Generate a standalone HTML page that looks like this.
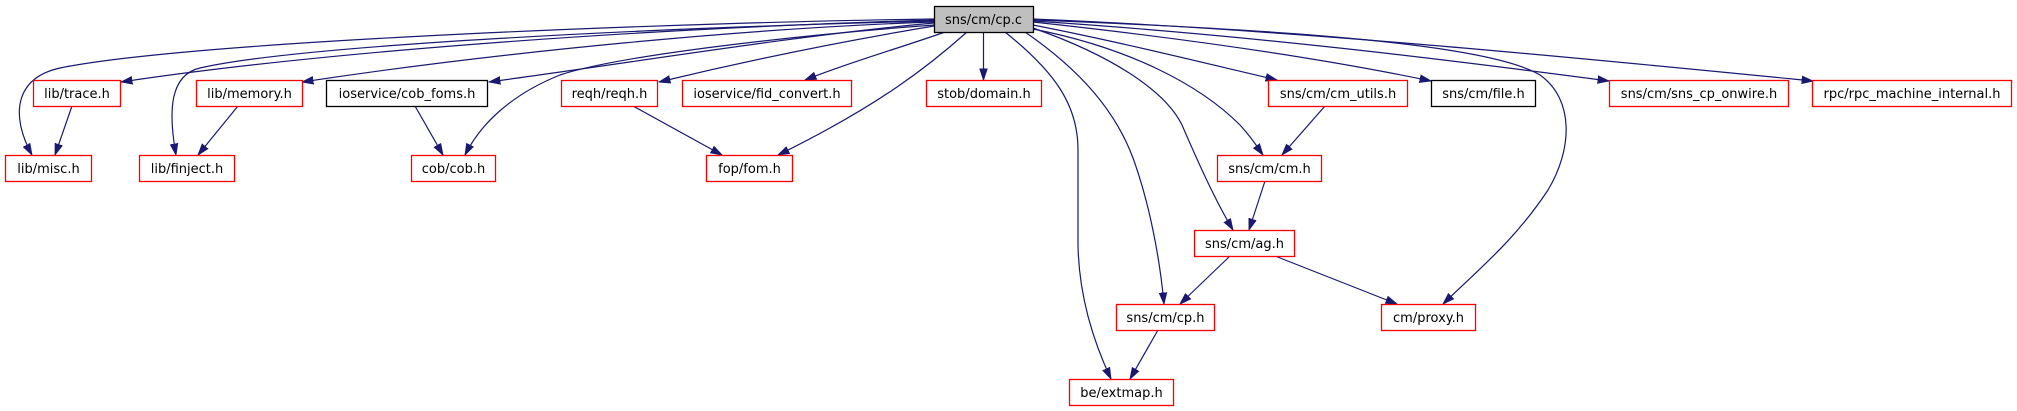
<!DOCTYPE html>
<html><head><meta charset="utf-8"><style>
html,body{margin:0;padding:0;background:#fff;}
svg{display:block;}
text{font-family:"DejaVu Sans","Liberation Sans",sans-serif;font-size:13px;fill:#000;text-anchor:middle;}
.r{fill:#fff;stroke:#ff0000;stroke-width:1.3;}
.b{fill:#fff;stroke:#000;stroke-width:1.3;}
.e{fill:none;stroke:#191970;stroke-width:1.2;}
</style></head><body>
<svg width="2017" height="411" viewBox="0 0 2017 411" xmlns="http://www.w3.org/2000/svg">
<defs>
<marker id="a" markerUnits="userSpaceOnUse" markerWidth="12" markerHeight="9" viewBox="0 0 11 8" refX="10.5" refY="4" orient="auto">
<path d="M0,0.5 L10.5,4 L0,7.5 z" fill="#191970" stroke="#191970" stroke-width="0.8"/>
</marker>
</defs>

<!-- edges from cp.c -->
<path class="e" marker-end="url(#a)" d="M934,19 C700,22 200,40 60,68 C15,78 10,115 32,155"/>
<path class="e" marker-end="url(#a)" d="M934,20 C600,30 300,55 121,82"/>
<path class="e" marker-end="url(#a)" d="M934,21 C650,28 300,45 200,68 C170,75 168,110 176,155"/>
<path class="e" marker-end="url(#a)" d="M934,22 C750,28 500,52 302,82"/>
<path class="e" marker-end="url(#a)" d="M934,23 C800,35 650,60 489,82"/>
<path class="e" marker-end="url(#a)" d="M934,25 C800,35 620,55 560,75 C510,95 480,125 465,155"/>
<path class="e" marker-end="url(#a)" d="M934,26 C850,40 750,60 659,82"/>
<path class="e" marker-end="url(#a)" d="M945,32 C900,48 850,62 805,80"/>
<path class="e" marker-end="url(#a)" d="M967,32 C930,65 880,105 778,155"/>
<path class="e" marker-end="url(#a)" d="M983.5,32 L983.5,80"/>
<path class="e" marker-end="url(#a)" d="M1005,32 C1055,72 1078,105 1078,150 L1078,245 C1079,300 1095,345 1111,379"/>
<path class="e" marker-end="url(#a)" d="M1025,32 C1080,70 1115,110 1133,158 C1150,205 1160,260 1164,304"/>
<path class="e" marker-end="url(#a)" d="M1033,28 C1110,55 1165,90 1182,125 C1198,162 1215,200 1233,230"/>
<path class="e" marker-end="url(#a)" d="M1033,29 C1130,48 1200,85 1240,125 C1252,138 1258,148 1263,155"/>
<path class="e" marker-end="url(#a)" d="M1033,25 C1120,42 1200,62 1277,80"/>
<path class="e" marker-end="url(#a)" d="M1033,22 C1200,40 1330,60 1431,81"/>
<path class="e" marker-end="url(#a)" d="M1033,21 C1250,35 1450,60 1609,81"/>
<path class="e" marker-end="url(#a)" d="M1033,19 C1300,30 1600,60 1813,81"/>
<path class="e" marker-end="url(#a)" d="M1033,20 C1300,30 1490,45 1540,75 C1575,100 1572,150 1548,190 C1515,240 1478,270 1443,304"/>

<!-- other edges -->
<path class="e" marker-end="url(#a)" d="M72,106 L55,155"/>
<path class="e" marker-end="url(#a)" d="M238,106 L198,155"/>
<path class="e" marker-end="url(#a)" d="M415,106 L443,155"/>
<path class="e" marker-end="url(#a)" d="M633,106 L722,155"/>
<path class="e" marker-end="url(#a)" d="M1325,106 L1282,155"/>
<path class="e" marker-end="url(#a)" d="M1265,181 L1249,230"/>
<path class="e" marker-end="url(#a)" d="M1230,256 L1180,304"/>
<path class="e" marker-end="url(#a)" d="M1275,256 L1397,304"/>
<path class="e" marker-end="url(#a)" d="M1158,330 L1130,379"/>

<!-- nodes -->
<rect x="934.5" y="6.5" width="99" height="26" fill="#bfbfbf" stroke="#000" stroke-width="1.3"/>
<text x="983.5" y="24">sns/cm/cp.c</text>

<rect class="r" x="33.5" y="80.5" width="87" height="26"/><text x="77" y="98">lib/trace.h</text>
<rect class="r" x="196.5" y="80.5" width="106" height="26"/><text x="249.5" y="98">lib/memory.h</text>
<rect class="b" x="326.5" y="80.5" width="161" height="26"/><text x="407" y="98">ioservice/cob_foms.h</text>
<rect class="r" x="561.5" y="80.5" width="96" height="26"/><text x="609.5" y="98">reqh/reqh.h</text>
<rect class="r" x="682.5" y="80.5" width="169" height="26"/><text x="767" y="98">ioservice/fid_convert.h</text>
<rect class="r" x="926.5" y="80.5" width="115" height="26"/><text x="984" y="98">stob/domain.h</text>
<rect class="r" x="1268.5" y="80.5" width="139" height="26"/><text x="1338" y="98">sns/cm/cm_utils.h</text>
<rect class="b" x="1431.5" y="80.5" width="104" height="26"/><text x="1483.5" y="98">sns/cm/file.h</text>
<rect class="r" x="1609.5" y="80.5" width="179" height="26"/><text x="1699" y="98">sns/cm/sns_cp_onwire.h</text>
<rect class="r" x="1812.5" y="80.5" width="199" height="26"/><text x="1912" y="98">rpc/rpc_machine_internal.h</text>

<rect class="r" x="5.5" y="155.5" width="86" height="26"/><text x="48.5" y="173">lib/misc.h</text>
<rect class="r" x="139.5" y="155.5" width="95" height="26"/><text x="187" y="173">lib/finject.h</text>
<rect class="r" x="411.5" y="155.5" width="84" height="26"/><text x="453.5" y="173">cob/cob.h</text>
<rect class="r" x="706.5" y="155.5" width="86" height="26"/><text x="749.5" y="173">fop/fom.h</text>
<rect class="r" x="1217.5" y="155.5" width="104" height="26"/><text x="1269.5" y="173">sns/cm/cm.h</text>

<rect class="r" x="1194.5" y="230.5" width="100" height="26"/><text x="1244.5" y="248">sns/cm/ag.h</text>

<rect class="r" x="1116.5" y="304.5" width="98" height="26"/><text x="1165.5" y="322">sns/cm/cp.h</text>
<rect class="r" x="1381.5" y="304.5" width="94" height="26"/><text x="1428.5" y="322">cm/proxy.h</text>

<rect class="r" x="1069.5" y="379.5" width="104" height="26"/><text x="1121.5" y="397">be/extmap.h</text>
</svg>
</body></html>
